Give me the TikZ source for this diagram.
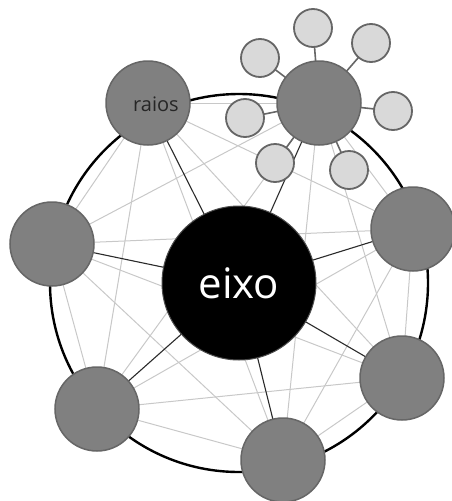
\documentclass[tikz,border=0pt]{standalone}
\usepackage{fontspec}
\setmainfont{Open Sans}
\usetikzlibrary{positioning}

\definecolor{raiofill}{HTML}{808080}
\definecolor{raiodraw}{HTML}{666666}
\definecolor{satfill}{HTML}{D9D9D9}
\definecolor{chordgray}{HTML}{C8C8C8}
\definecolor{spokegray}{HTML}{2A2A2A}

\begin{document}
\begin{tikzpicture}[x=1pt,y=-1pt,
  raio/.style={circle,draw=raiodraw,fill=raiofill,line width=1.5pt,minimum size=84pt,inner sep=0pt},
  sat/.style={circle,draw=raiodraw,fill=satfill,line width=1.8pt,minimum size=38pt,inner sep=0pt},
  chord/.style={draw=chordgray,line width=1pt},
  spoke/.style={draw=spokegray,line width=1.1pt},
  satlink/.style={draw=raiodraw,line width=1.6pt}]
\useasboundingbox (0,0) rectangle (451,501);

\coordinate (c) at (239,283);
\coordinate (r1) at (148,103);
\coordinate (r2) at (319,103);
\coordinate (r3) at (413,229);
\coordinate (r4) at (402,378);
\coordinate (r5) at (283,460);
\coordinate (r6) at (97,409);
\coordinate (r7) at (52,244);

\coordinate (s1) at (313,28);
\coordinate (s2) at (371,43);
\coordinate (s3) at (393,111);
\coordinate (s4) at (349,170);
\coordinate (s5) at (275,163);
\coordinate (s6) at (245,118);
\coordinate (s7) at (260,58);

% aro
\draw[line width=2.4pt] (c) circle (189pt);

% all chords between the raios
\foreach \i in {1,...,6} {
  \pgfmathtruncatemacro\nexti{\i+1}
  \foreach \j in {\nexti,...,7}
    \draw[chord] (r\i) -- (r\j);
}

% spokes to the eixo
\foreach \i in {1,...,7}
  \draw[spoke] (c) -- (r\i);

% satellites of the second raio
\foreach \i in {1,...,7}
  \draw[satlink] (r2) -- (s\i);

\node[circle,fill=black,draw=black!70,line width=1pt,minimum size=154pt,inner sep=0pt,
  text=white,font=\fontsize{42}{50}\selectfont] (eixo) at (c) {eixo};

\foreach \i in {1,...,7}
  \node[raio] (raio\i) at (r\i) {};
\foreach \i in {1,...,7}
  \node[sat] (sat\i) at (s\i) {};

\node[text=black!85,font=\fontsize{20}{24}\selectfont] (rotulo) at (156,104) {raios};
\end{tikzpicture}
\end{document}
